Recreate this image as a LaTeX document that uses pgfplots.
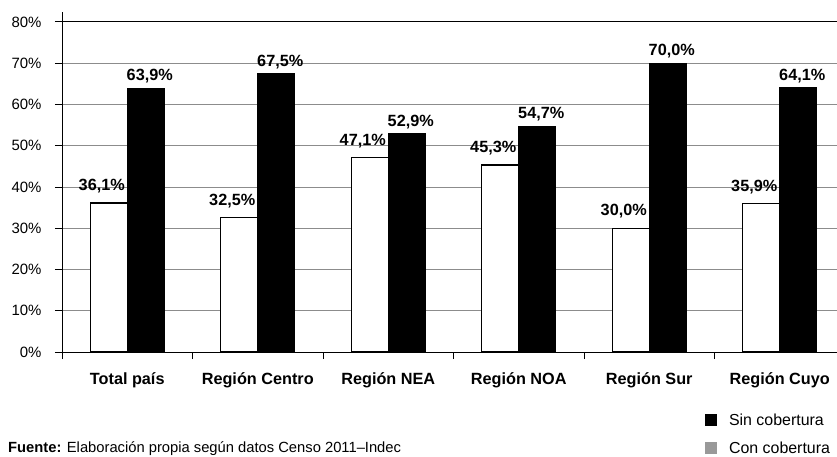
\documentclass[border=0pt]{standalone}
\usepackage{pgfplots}
\pgfplotsset{compat=1.18}
\usepackage{fontspec}
\setmainfont{Liberation Sans}
\newcommand\chartfont{\fontsize{15}{17}\selectfont}
\newcommand\boldfont{\fontsize{16.3}{18}\selectfont\bfseries}
\begin{document}
\begin{tikzpicture}
\begin{axis}[
    at={(0,0)}, anchor=south west,
    scale only axis,
    width=783bp, height=340bp,
    xmin=-0.5, xmax=5.5,
    ymin=0, ymax=82.4,
    axis lines=left,
    axis line style={-, line width=1bp},
    ybar,
    bar width=37bp,
    tick align=outside,
    major tick length=7bp,
    tick style={black, line width=0.8bp},
    xtick={-0.5,0.5,...,5.5},
    xticklabels={},
    extra x ticks={0,1,2,3,4,5},
    extra x tick labels={Total país, Región Centro, Región NEA, Región NOA, Región Sur, Región Cuyo},
    extra x tick style={major tick length=0pt, grid=none},
    xticklabel style={font=\boldfont, yshift=-17bp},
    ytick={0,10,...,70},
    extra y ticks={80},
    extra y tick style={major grid style={black, line width=1bp}},
    ymajorgrids,
    major grid style={gray!90, line width=0.9bp},
    yticklabel={\pgfmathprintnumber{\tick}\%},
    yticklabel style={font=\chartfont, xshift=-10bp},
    /pgf/number format/assume math mode=true,
    nodes near coords={\pgfmathprintnumber[fixed,fixed zerofill,precision=1,use comma]{\pgfplotspointmeta}\%},
    every node near coord/.append style={font=\boldfont, black},
    legend image code/.code={\fill[#1, draw=none] (0bp,-6bp) rectangle (12bp,6bp);},
    legend style={at={(0.821,-0.175)}, anchor=north west, draw=none, fill=none,
        inner sep=0pt, font=\fontsize{16}{18}\selectfont, row sep=11bp,
        /tikz/every odd column/.append style={column sep=10bp}},
    legend cell align=left,
]
% Con cobertura
\addplot[forget plot, fill=white, draw=black, line width=1.2bp, bar shift=-18.5bp,
    every node near coord/.append style={xshift=-7bp, yshift=6bp}]
    coordinates {(0,36.1) (1,32.5) (2,47.1) (3,45.3) (4,30.0) (5,35.9)};
% Sin cobertura
\addplot[forget plot, fill=black, draw=black, line width=1.2bp, bar shift=18.5bp,
    every node near coord/.append style={xshift=4bp, yshift=1bp}]
    coordinates {(0,63.9) (1,67.5) (2,52.9) (3,54.7) (4,70.0) (5,64.1)};
\addlegendimage{fill=black}
\addlegendentry{Sin cobertura}
\addlegendimage{fill=gray!80}
\addlegendentry{Con cobertura}
\end{axis}
\node[anchor=base west, font=\fontsize{14.8}{17}\selectfont, inner sep=0pt] at (-54bp,-100bp)
    {\textbf{Fuente:} Elaboración propia según datos Censo 2011–Indec};
\pgfresetboundingbox
\path[use as bounding box] (-62bp,-105bp) rectangle (775bp,352bp);
\end{tikzpicture}
\end{document}
